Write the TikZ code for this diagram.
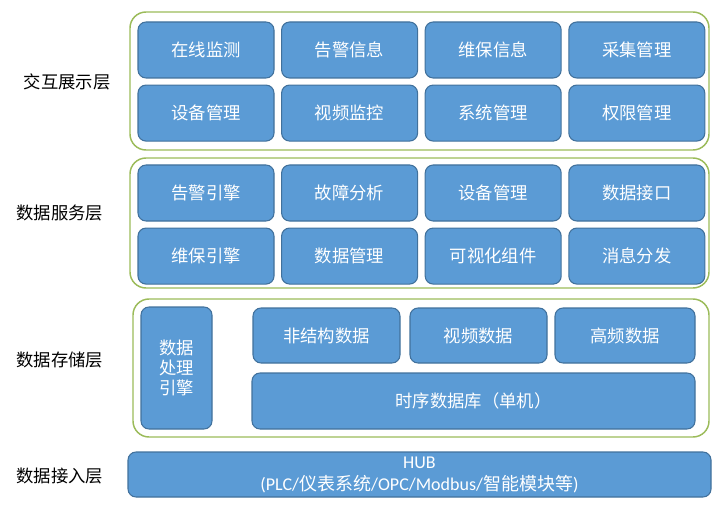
\documentclass[tikz,border=0pt]{standalone}
\usepackage{fontspec}
\setmainfont{Carlito}
\newfontfamily\cjk{Noto Sans CJK SC}
\usetikzlibrary{positioning,fit,backgrounds}
\definecolor{cellblue}{HTML}{5B9BD5}
\definecolor{celledge}{HTML}{41719C}
\definecolor{layeredge}{HTML}{9BBB59}

\tikzset{
  cell/.style={draw=celledge,fill=cellblue,text=white,rounded corners=6pt,line width=0.8pt,
    inner sep=0pt,minimum width=102pt,minimum height=42pt,font=\cjk\fontsize{13}{15}\selectfont},
  layer/.style={draw=layeredge,line width=1.1pt,rounded corners=12pt,inner sep=0pt},
  layername/.style={font=\cjk\fontsize{13}{15}\selectfont}
}

\begin{document}
\begin{tikzpicture}[x=0.75pt,y=-0.75pt,node distance=4.5pt and 4.9pt]
\useasboundingbox (0,0) rectangle (721,506);
% interaction layer
\node[cell] (a1) at (206,50) {在线监测};
\node[cell,right=of a1] (a2) {告警信息};
\node[cell,right=of a2] (a3) {维保信息};
\node[cell,right=of a3] (a4) {采集管理};
\node[cell,below=of a1] (b1) {设备管理};
\node[cell,right=of b1] (b2) {视频监控};
\node[cell,right=of b2] (b3) {系统管理};
\node[cell,right=of b3] (b4) {权限管理};
\node[layer,fit={(130,12) (709,150)}] (L1) {};
\node[layername] (l1) at (67,82) {交互展示层};
% service layer
\node[cell] (c1) at (206,193) {告警引擎};
\node[cell,right=of c1] (c2) {故障分析};
\node[cell,right=of c2] (c3) {设备管理};
\node[cell,right=of c3] (c4) {数据接口};
\node[cell,below=of c1] (d1) {维保引擎};
\node[cell,right=of d1] (d2) {数据管理};
\node[cell,right=of d2] (d3) {可视化组件};
\node[cell,right=of d3] (d4) {消息分发};
\node[layer,fit={(130,158) (709,288)}] (L2) {};
\node[layername] (l2) at (60,213) {数据服务层};
% storage layer
\node[cell,minimum width=53.25pt,minimum height=91.5pt,align=center,
  font=\cjk\fontsize{13}{15}\selectfont] (eng) at (176.5,368) {数据\\处理\\引擎};
\node[cell,minimum width=110.25pt,minimum height=41.25pt] (s1) at (326.5,335.5) {非结构数据};
\node[cell,minimum width=102.75pt,minimum height=41.25pt] (s2) at (478.5,335.5) {视频数据};
\node[cell,minimum width=105pt,minimum height=41.25pt] (s3) at (625,335.5) {高频数据};
\node[cell,minimum width=332.25pt] (tsdb) at (473.5,401) {时序数据库（单机）};
\node[layer,fit={(133,299) (709,437)}] (L3) {};
\node[layername] (l3) at (60,360) {数据存储层};
% access layer
\node[cell,minimum width=437.25pt,minimum height=33.75pt,align=center,
  font=\fontsize{13.5}{16.5}\selectfont] (hub) at (419.5,474.5)
  {HUB\\({PLC}/{\cjk 仪表系统}/OPC/Modbus/{\cjk 智能模块等})};
\node[layername] (l4) at (60,476) {数据接入层};
\end{tikzpicture}
\end{document}
